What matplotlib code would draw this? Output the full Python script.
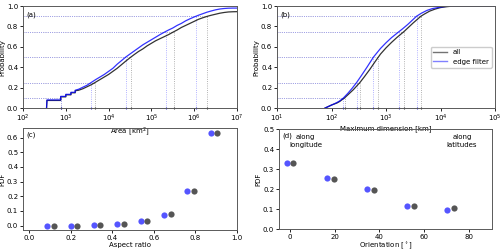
import numpy as np
import matplotlib
matplotlib.use('Agg')
import matplotlib.pyplot as plt
from matplotlib.lines import Line2D

plt.rcParams['font.size'] = 5
plt.rcParams['axes.linewidth'] = 0.7
plt.rcParams['axes.edgecolor'] = '0.35'
plt.rcParams['xtick.major.size'] = 2
plt.rcParams['ytick.major.size'] = 2
plt.rcParams['xtick.major.width'] = 0.6
plt.rcParams['ytick.major.width'] = 0.6
plt.rcParams['xtick.major.pad'] = 1.5
plt.rcParams['ytick.major.pad'] = 1.5

# --- (a) area CDF, log10(area) vs probability ---
area_all_logx = [2.55, 2.56, 2.88, 2.88, 3.0, 3.0, 3.12, 3.12, 3.22, 3.22, 3.3, 3.4, 3.5, 3.6, 3.68,
                 3.8, 3.9, 4.0, 4.1, 4.2, 4.3, 4.4, 4.52, 4.6, 4.7, 4.8, 4.9, 5.0, 5.1, 5.2, 5.3,
                 5.4, 5.53, 5.6, 5.7, 5.8, 5.9, 6.0, 6.1, 6.2, 6.31, 6.4, 6.5, 6.6, 6.7, 6.8, 6.9, 7.0]
area_all_p = [0.0, 0.075, 0.075, 0.11, 0.11, 0.13, 0.13, 0.15, 0.15, 0.17, 0.175, 0.19, 0.21, 0.23, 0.25,
              0.28, 0.305, 0.33, 0.36, 0.39, 0.425, 0.46, 0.5, 0.525, 0.555, 0.58, 0.61, 0.635, 0.66, 0.68, 0.70,
              0.72, 0.75, 0.765, 0.79, 0.81, 0.83, 0.85, 0.87, 0.885, 0.9, 0.91, 0.92, 0.93, 0.937, 0.942, 0.944, 0.945]
area_edge_logx = [2.55, 2.56, 2.88, 2.88, 3.0, 3.0, 3.12, 3.12, 3.22, 3.22, 3.3, 3.4, 3.5, 3.59,
                  3.7, 3.8, 3.9, 4.0, 4.1, 4.2, 4.3, 4.4, 4.5, 4.6, 4.7, 4.8, 4.9, 5.0, 5.1, 5.2, 5.33,
                  5.4, 5.5, 5.6, 5.7, 5.8, 5.9, 6.04, 6.1, 6.2, 6.3, 6.4, 6.5, 6.6, 6.7, 6.8, 6.9, 7.0]
area_edge_p = [0.0, 0.08, 0.08, 0.115, 0.115, 0.135, 0.135, 0.155, 0.155, 0.175, 0.185, 0.205, 0.225, 0.25,
               0.28, 0.305, 0.33, 0.36, 0.39, 0.43, 0.465, 0.5, 0.53, 0.56, 0.59, 0.62, 0.645, 0.67, 0.695, 0.72, 0.75,
               0.765, 0.785, 0.81, 0.83, 0.855, 0.875, 0.9, 0.91, 0.925, 0.94, 0.952, 0.963, 0.971, 0.976, 0.979, 0.98, 0.98]

quant_levels = [0.1, 0.25, 0.5, 0.75, 0.9]
area_all_q = [2.88, 3.68, 4.52, 5.53, 6.31]
area_edge_q = [2.88, 3.59, 4.40, 5.33, 6.04]

# --- (b) maximum dimension CDF ---
dim_all_logx = [1.88, 1.92, 1.96, 2.0, 2.05, 2.1, 2.15, 2.2, 2.24, 2.3, 2.4, 2.52, 2.6, 2.7, 2.8, 2.86,
                2.9, 3.0, 3.1, 3.2, 3.33, 3.4, 3.5, 3.64, 3.7, 3.8, 3.9, 4.0, 4.1, 4.2, 4.35, 5.0]
dim_all_p = [0.0, 0.01, 0.02, 0.03, 0.04, 0.05, 0.065, 0.085, 0.1, 0.13, 0.18, 0.25, 0.305, 0.377, 0.455, 0.5,
             0.53, 0.59, 0.643, 0.692, 0.75, 0.785, 0.835, 0.9, 0.92, 0.95, 0.97, 0.985, 0.993, 0.998, 1.0, 1.0]
dim_edge_logx = [1.88, 1.92, 1.96, 2.0, 2.05, 2.1, 2.15, 2.22, 2.3, 2.38, 2.46, 2.55, 2.65, 2.77,
                 2.9, 3.0, 3.1, 3.24, 3.3, 3.4, 3.56, 3.65, 3.75, 3.85, 4.0, 4.1, 4.2, 4.35, 5.0]
dim_edge_p = [0.0, 0.01, 0.02, 0.03, 0.042, 0.055, 0.07, 0.1, 0.145, 0.195, 0.25, 0.32, 0.4, 0.5,
              0.585, 0.64, 0.69, 0.75, 0.775, 0.82, 0.9, 0.93, 0.957, 0.975, 0.99, 0.996, 0.999, 1.0, 1.0]
dim_all_q = [2.24, 2.52, 2.86, 3.33, 3.64]
dim_edge_q = [2.22, 2.46, 2.77, 3.24, 3.56]

# --- (c) aspect ratio PDF ---
aspect_centers = [0.1025, 0.215, 0.327, 0.44, 0.552, 0.665, 0.777, 0.889]
aspect_edge = [0.001, 0.001, 0.006, 0.013, 0.032, 0.075, 0.238, 0.634]
aspect_all = [0.001, 0.001, 0.006, 0.013, 0.034, 0.077, 0.235, 0.633]

# --- (d) orientation PDF ---
orient_centers = [0, 18, 36, 54, 72]
orient_edge = [0.328, 0.256, 0.201, 0.116, 0.097]
orient_all = [0.332, 0.252, 0.195, 0.117, 0.104]

c_all = 'black'
c_edge = 'blue'

fig = plt.figure(figsize=(5, 2.52), dpi=100)
ax_a = fig.add_axes([0.046, 0.571, 0.428, 0.405])
ax_b = fig.add_axes([0.554, 0.571, 0.436, 0.405])
ax_c = fig.add_axes([0.046, 0.087, 0.428, 0.405])
ax_d = fig.add_axes([0.558, 0.091, 0.426, 0.397])
# keep the upper x labels visible above the lower panels
ax_c.patch.set_alpha(0)
ax_d.patch.set_alpha(0)


def cdf_panel(ax, x_all, p_all, q_all, x_edge, p_edge, q_edge, xmin):
    for qx, lev in zip(q_all, quant_levels):
        ax.plot([xmin, 10 ** qx], [lev, lev], ':', color='0.6', lw=0.6)
        ax.plot([10 ** qx, 10 ** qx], [0, lev], ':', color='0.6', lw=0.6)
    for qx, lev in zip(q_edge, quant_levels):
        ax.plot([xmin, 10 ** qx], [lev, lev], ':', color='#9999ff', lw=0.6)
        ax.plot([10 ** qx, 10 ** qx], [0, lev], ':', color='#9999ff', lw=0.6)
    ax.plot(10 ** np.array(x_all), p_all, color=c_all, lw=0.9, alpha=0.8)
    ax.plot(10 ** np.array(x_edge), p_edge, color=c_edge, lw=0.9, alpha=0.8)
    ax.plot(10 ** np.array(q_all), np.zeros(len(q_all)), '|', color='0.2', ms=2, mew=0.8, clip_on=False)
    ax.plot(10 ** np.array(q_edge), np.zeros(len(q_edge)), '|', color='#3333cc', ms=2, mew=0.8, clip_on=False)
    ax.set_xscale('log')
    ax.set_ylim(0, 1)
    ax.set_ylabel('Probability', labelpad=1)
    ax.minorticks_off()


cdf_panel(ax_a, area_all_logx, area_all_p, area_all_q, area_edge_logx, area_edge_p, area_edge_q, 1e2)
ax_a.set_xlim(1e2, 1e7)
ax_a.set_xlabel('Area [km$^2$]', labelpad=0.5)
ax_a.text(0.017, 0.91, '(a)', transform=ax_a.transAxes, va='center')

cdf_panel(ax_b, dim_all_logx, dim_all_p, dim_all_q, dim_edge_logx, dim_edge_p, dim_edge_q, 1e1)
ax_b.set_xlim(1e1, 1e5)
ax_b.set_xlabel('Maximum dimension [km]', labelpad=0.5)
ax_b.text(0.017, 0.91, '(b)', transform=ax_b.transAxes, va='center')
handles = [Line2D([], [], color='0.45', lw=1.0), Line2D([], [], color='#8080ff', lw=1.0)]
ax_b.legend(handles, ['all', 'edge filter'], loc='center right', fontsize=5,
            handlelength=2.0, frameon=True, framealpha=1, edgecolor='0.8')

off_c = 0.0155
ax_c.scatter(np.array(aspect_centers) - off_c, aspect_edge, s=20, color='#5555ff', zorder=3, lw=0)
ax_c.scatter(np.array(aspect_centers) + off_c, aspect_all, s=20, color='#555555', zorder=3, lw=0)
ax_c.set_xlim(-0.03, 1.0)
ax_c.set_ylim(-0.03, 0.665)
ax_c.set_xlabel('Aspect ratio', labelpad=1)
ax_c.set_ylabel('PDF', labelpad=1)
ax_c.text(0.017, 0.93, '(c)', transform=ax_c.transAxes, va='center')

off_d = 1.5
ax_d.scatter(np.array(orient_centers) - off_d, orient_edge, s=20, color='#5555ff', zorder=3, lw=0)
ax_d.scatter(np.array(orient_centers) + off_d, orient_all, s=20, color='#555555', zorder=3, lw=0)
ax_d.set_xlim(-5, 90.5)
ax_d.set_ylim(0, 0.5)
ax_d.set_xticks([0, 20, 40, 60, 80])
ax_d.set_xlabel('Orientation [$^\\circ$]', labelpad=1)
ax_d.set_ylabel('PDF', labelpad=1)
ax_d.text(0.017, 0.93, '(d)', transform=ax_d.transAxes, va='center')
ax_d.text(7, 0.44, 'along\nlongitude', ha='center', va='center', linespacing=1.3)
ax_d.text(77, 0.44, 'along\nlatitudes', ha='center', va='center', linespacing=1.3)

fig.savefig('out.png', dpi=100)
